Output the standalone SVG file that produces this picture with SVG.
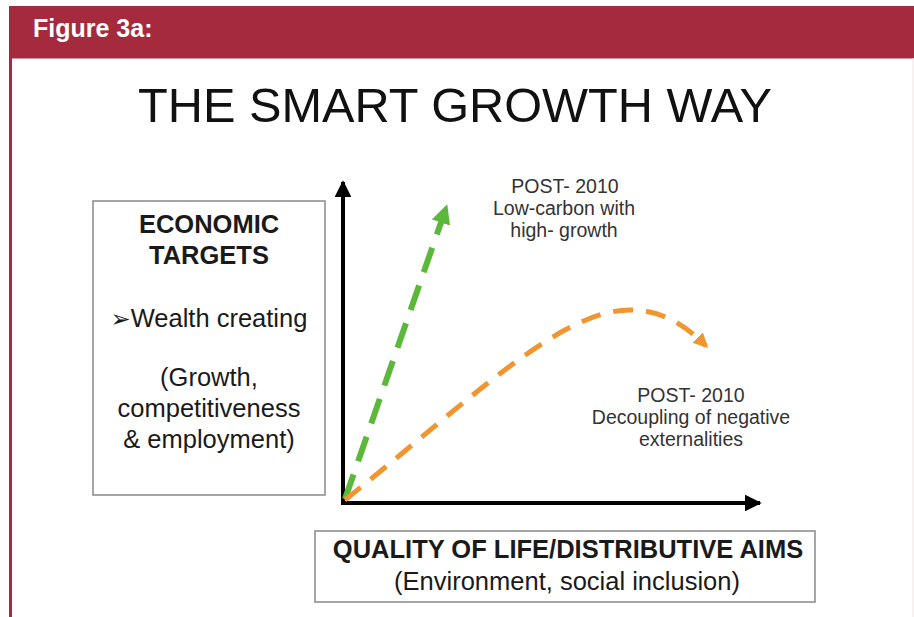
<svg xmlns="http://www.w3.org/2000/svg" width="914" height="617" viewBox="0 0 914 617">
<style>
.t{font-family:"Liberation Sans",Arial,sans-serif;}
.b{font-weight:bold;}
.box{fill:#fff;stroke:#8f8f8f;stroke-width:1.6;}
.lbl{font-family:"Liberation Sans",Arial,sans-serif;font-size:19.5px;fill:#333;text-anchor:middle;}
.big{font-family:"Liberation Sans",Arial,sans-serif;font-size:25.5px;fill:#1a1a1a;text-anchor:middle;}
</style>
<defs>
<marker id="ak" viewBox="0 0 10 10" refX="9" refY="5" markerWidth="4.2" markerHeight="4.2" orient="auto" markerUnits="strokeWidth"><path d="M0,0 L10,5 L0,10 Z" fill="#000"/></marker>
<marker id="ag" viewBox="0 0 10 10" refX="8" refY="5" markerWidth="3.2" markerHeight="3.2" orient="auto" markerUnits="strokeWidth"><path d="M0,0 L10,5 L0,10 Z" fill="#5cb83a"/></marker>
<marker id="ao" viewBox="0 0 10 10" refX="8" refY="5" markerWidth="3" markerHeight="3" orient="auto" markerUnits="strokeWidth"><path d="M0,0 L10,5 L0,10 Z" fill="#f0952f"/></marker>
</defs>
<rect width="914" height="617" fill="#fff"/>
<g id="header">
<rect x="9" y="6" width="905" height="52.5" fill="#a62a3e"/>
<rect x="9" y="58" width="3" height="559" fill="#a62a3e"/>
<rect x="912.5" y="58" width="1" height="559" fill="#f1e3e6"/>
<text class="t b" x="33" y="37" font-size="25" fill="#fff">Figure 3a:</text>
</g>
<g id="title">
<text class="t" x="455" y="122" font-size="48.5" fill="#111" text-anchor="middle" textLength="634" lengthAdjust="spacingAndGlyphs">THE SMART GROWTH WAY</text>
</g>
<g id="connectors">
<line x1="343" y1="505" x2="343" y2="182" stroke="#000" stroke-width="4" marker-end="url(#ak)"/>
<line x1="341" y1="503" x2="760" y2="503" stroke="#000" stroke-width="4" marker-end="url(#ak)"/>
<line x1="345" y1="499" x2="446" y2="208" stroke="#5cb83a" stroke-width="6" stroke-dasharray="26 14" marker-end="url(#ag)"/>
<path d="M345,500 C470,400 560,310 630,310 C665,310 688,328 706,346" fill="none" stroke="#f0952f" stroke-width="5" stroke-dasharray="20 13" marker-end="url(#ao)"/>
</g>
<g id="economic-targets">
<rect class="box" x="93" y="201" width="232" height="294"/>
<text class="big b" x="209" y="233" font-size="26.5">ECONOMIC</text>
<text class="big b" x="209" y="264" font-size="26.5">TARGETS</text>
<text class="big" x="209" y="327"><tspan font-family="DejaVu Sans" font-size="24" font-weight="bold">➢</tspan>Wealth creating</text>
<text class="big" x="209" y="386">(Growth,</text>
<text class="big" x="209" y="417">competitiveness</text>
<text class="big" x="209" y="448">&amp; employment)</text>
</g>
<g id="label-green">
<text class="lbl" x="565" y="193">POST- 2010</text>
<text class="lbl" x="564" y="215">Low-carbon with</text>
<text class="lbl" x="564" y="237">high- growth</text>
</g>
<g id="label-orange">
<text class="lbl" x="691" y="402">POST- 2010</text>
<text class="lbl" x="691" y="424">Decoupling of negative</text>
<text class="lbl" x="691" y="446">externalities</text>
</g>
<g id="quality-of-life">
<rect class="box" x="315" y="531" width="500" height="71"/>
<text class="big b" x="568" y="558" font-size="26">QUALITY OF LIFE/DISTRIBUTIVE AIMS</text>
<text class="big" x="567" y="590" font-size="26">(Environment, social inclusion)</text>
</g>
</svg>
